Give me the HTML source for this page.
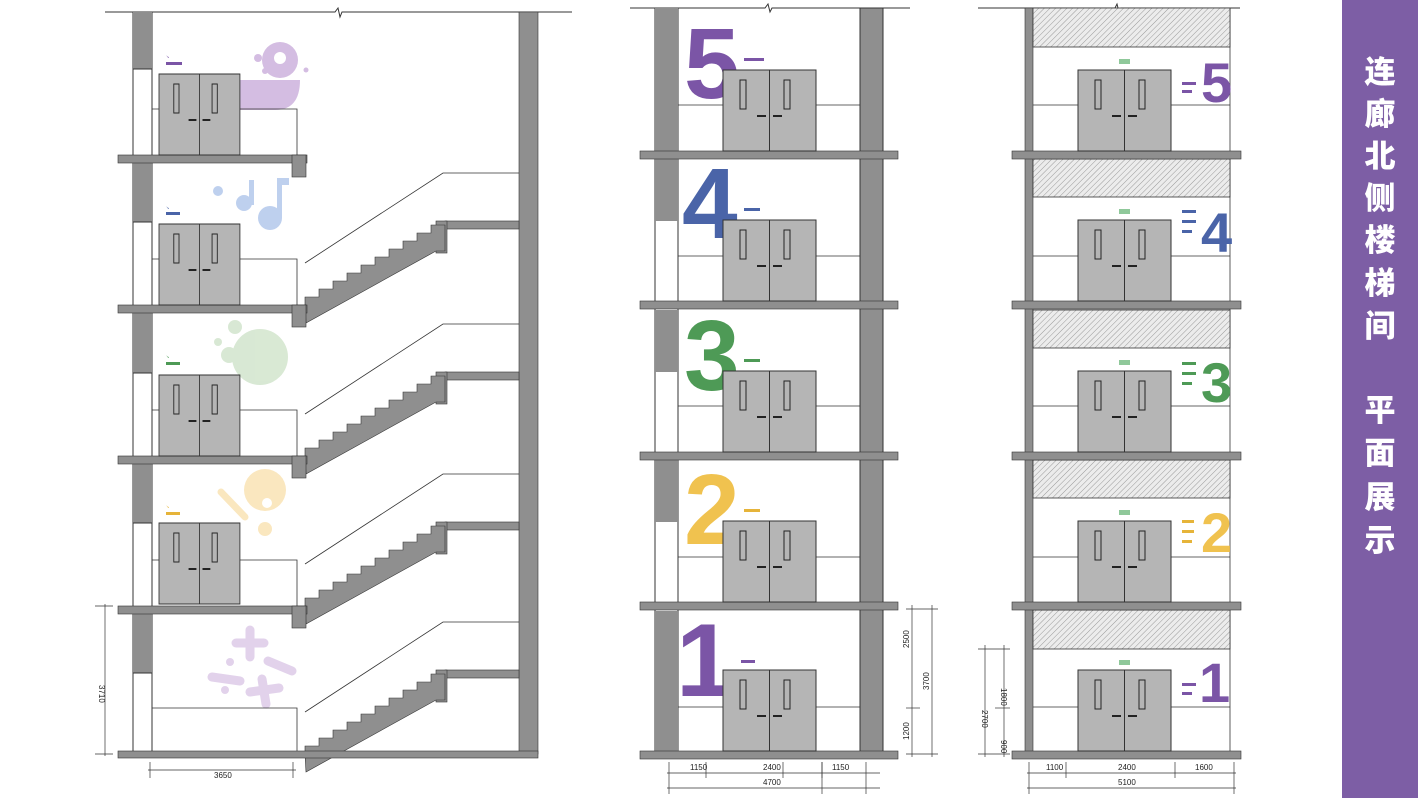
<!DOCTYPE html>
<html><head><meta charset="utf-8"><style>
html,body{margin:0;padding:0;background:#fff;}
svg{display:block;}
.t{font-family:"Liberation Sans",sans-serif;font-size:8px;fill:#222;}
.num{font-family:"Liberation Sans",sans-serif;font-weight:bold;}
.side{font-family:"Liberation Sans","Noto Sans CJK SC",sans-serif;font-weight:900;font-size:31px;fill:#fff;}
</style></head><body>
<svg width="1418" height="798" viewBox="0 0 1418 798" xmlns="http://www.w3.org/2000/svg">
<defs>
<pattern id="hatch" width="4" height="4" patternUnits="userSpaceOnUse" patternTransform="rotate(45)">
<rect width="4" height="4" fill="#ececec"/><line x1="0" y1="0" x2="0" y2="4" stroke="#9a9a9a" stroke-width="1"/>
</pattern>
<g id="door">
<rect x="0" y="0" width="93" height="81" fill="#b5b5b5" stroke="#333" stroke-width="1"/>
<line x1="46.5" y1="0" x2="46.5" y2="81" stroke="#333" stroke-width="1"/>
<rect x="17" y="10" width="6" height="29" fill="#b5b5b5" stroke="#222" stroke-width="1"/>
<rect x="61" y="10" width="6" height="29" fill="#b5b5b5" stroke="#222" stroke-width="1"/>
<line x1="34" y1="46" x2="43" y2="46" stroke="#222" stroke-width="2"/>
<line x1="50" y1="46" x2="59" y2="46" stroke="#222" stroke-width="2"/>
</g>
<g id="stair">
<rect x="445" y="-84" width="74" height="8" fill="#8f8f8f" stroke="#333" stroke-width="0.6"/>
<rect x="436" y="-84" width="11" height="32" fill="#8f8f8f" stroke="#333" stroke-width="0.6"/>
<polygon points="305,0 305,-8 319,-8 319,-16 333,-16 333,-24 347,-24 347,-32 361,-32 361,-40 375,-40 375,-48 389,-48 389,-56 403,-56 403,-64 417,-64 417,-72 431,-72 431,-80 445,-80 445,-54 436,-54 306,18" fill="#8f8f8f" stroke="#333" stroke-width="0.6"/>
<polyline points="305,-42 443,-132 519,-132" fill="none" stroke="#333" stroke-width="0.8"/>
</g>
<g id="lfloor">
<rect x="118" y="0" width="189" height="8" fill="#8f8f8f" stroke="#333" stroke-width="0.6"/>
<rect x="292" y="0" width="14" height="22" fill="#8f8f8f" stroke="#333" stroke-width="0.6"/>
</g>
</defs>

<!-- ===== LEFT DRAWING ===== -->
<polyline points="105,12 335,12 338,8 340,17 342,12 572,12" fill="none" stroke="#333" stroke-width="1"/>
<rect x="519" y="12" width="19" height="742" fill="#8f8f8f" stroke="#333" stroke-width="0.6"/>
<!-- left wall column -->
<rect x="133" y="12" width="19" height="742" fill="#fff" stroke="#333" stroke-width="1"/>
<rect x="133" y="12" width="19" height="57" fill="#8f8f8f"/>
<rect x="133" y="162" width="19" height="60" fill="#8f8f8f"/>
<rect x="133" y="313" width="19" height="60" fill="#8f8f8f"/>
<rect x="133" y="463" width="19" height="60" fill="#8f8f8f"/>
<rect x="133" y="613" width="19" height="60" fill="#8f8f8f"/>
<line x1="133" y1="69" x2="152" y2="69" stroke="#333"/><line x1="133" y1="222" x2="152" y2="222" stroke="#333"/><line x1="133" y1="373" x2="152" y2="373" stroke="#333"/><line x1="133" y1="523" x2="152" y2="523" stroke="#333"/><line x1="133" y1="673" x2="152" y2="673" stroke="#333"/>
<!-- decorations -->
<g opacity="0.85">
<circle cx="280" cy="60" r="18" fill="#cdb2dd"/><circle cx="280" cy="58" r="6" fill="#fff"/>
<path d="M240 80 L300 80 Q300 110 275 110 L240 110 Z" fill="#cdb2dd"/>
<circle cx="258" cy="58" r="4" fill="#cdb2dd"/><circle cx="265" cy="71" r="3" fill="#cdb2dd"/><circle cx="306" cy="70" r="2.5" fill="#cdb2dd"/>
<circle cx="244" cy="203" r="8" fill="#b3c8ec"/><circle cx="270" cy="218" r="12" fill="#b3c8ec"/><circle cx="218" cy="191" r="5" fill="#b3c8ec"/>
<rect x="249" y="180" width="5" height="25" fill="#b3c8ec"/><rect x="277" y="178" width="5" height="40" fill="#b3c8ec"/><rect x="277" y="178" width="12" height="7" fill="#b3c8ec"/>
<circle cx="260" cy="357" r="28" fill="#d2e5cd"/><circle cx="229" cy="355" r="8" fill="#d2e5cd"/><circle cx="218" cy="342" r="4" fill="#d2e5cd"/><circle cx="235" cy="327" r="7" fill="#d2e5cd"/>
<circle cx="265" cy="490" r="21" fill="#fae3b4"/><circle cx="267" cy="503" r="5" fill="#fff"/>
<line x1="221" y1="492" x2="245" y2="517" stroke="#fae3b4" stroke-width="7" stroke-linecap="round"/>
<circle cx="265" cy="529" r="7" fill="#fae3b4"/>
<line x1="250" y1="630" x2="250" y2="657" stroke="#ddcbe8" stroke-width="9" stroke-linecap="round"/><line x1="236" y1="643" x2="264" y2="643" stroke="#ddcbe8" stroke-width="9" stroke-linecap="round"/>
<line x1="212" y1="677" x2="240" y2="681" stroke="#ddcbe8" stroke-width="9" stroke-linecap="round"/>
<line x1="268" y1="661" x2="292" y2="671" stroke="#ddcbe8" stroke-width="9" stroke-linecap="round"/>
<line x1="262" y1="679" x2="266" y2="704" stroke="#ddcbe8" stroke-width="9" stroke-linecap="round"/><line x1="250" y1="692" x2="279" y2="688" stroke="#ddcbe8" stroke-width="9" stroke-linecap="round"/>
<circle cx="230" cy="662" r="4" fill="#ddcbe8"/><circle cx="225" cy="690" r="4" fill="#ddcbe8"/>
</g>
<!-- parapets -->
<g fill="none" stroke="#333" stroke-width="0.8">
<polyline points="152,109 297,109 297,155"/>
<polyline points="152,259 297,259 297,305"/>
<polyline points="152,410 297,410 297,456"/>
<polyline points="152,560 297,560 297,606"/>
<polyline points="152,708 297,708 297,754"/>
</g>
<use href="#stair" transform="translate(0,305)"/>
<use href="#stair" transform="translate(0,456)"/>
<use href="#stair" transform="translate(0,606)"/>
<use href="#stair" transform="translate(0,754)"/>
<use href="#lfloor" transform="translate(0,155)"/>
<use href="#lfloor" transform="translate(0,305)"/>
<use href="#lfloor" transform="translate(0,456)"/>
<use href="#lfloor" transform="translate(0,606)"/>
<rect x="118" y="751" width="420" height="7" fill="#8f8f8f" stroke="#333" stroke-width="0.6"/>
<use href="#door" transform="translate(159,74) scale(0.87,1)"/>
<use href="#door" transform="translate(159,224) scale(0.87,1)"/>
<use href="#door" transform="translate(159,375) scale(0.87,1)"/>
<use href="#door" transform="translate(159,523) scale(0.87,1)"/>
<!-- small signs -->
<g font-family="Liberation Sans" font-size="4">
<text x="166" y="58" fill="#7b55a6">↘</text><rect x="166" y="62" width="16" height="3" fill="#7b55a6"/>
<text x="166" y="209" fill="#4a64a8">↘</text><rect x="166" y="212" width="14" height="3" fill="#4a64a8"/>
<text x="166" y="358" fill="#4e9a56">↘</text><rect x="166" y="362" width="14" height="3" fill="#4e9a56"/>
<text x="166" y="508" fill="#e6b43a">↘</text><rect x="166" y="512" width="14" height="3" fill="#e6b43a"/>
</g>
<!-- dims left -->
<g stroke="#333" stroke-width="0.7" fill="none">
<line x1="105" y1="604" x2="105" y2="756"/><line x1="95" y1="606" x2="113" y2="606"/><line x1="95" y1="754" x2="113" y2="754"/>
<line x1="148" y1="770" x2="296" y2="770"/><line x1="150" y1="762" x2="150" y2="778"/><line x1="293" y1="762" x2="293" y2="778"/>
</g>
<text class="t" x="99" y="685" transform="rotate(90 99 685)">3710</text>
<text class="t" x="214" y="778">3650</text>

<!-- ===== MIDDLE DRAWING ===== -->
<polyline points="630,8 765,8 768,4 770,12 772,8 910,8" fill="none" stroke="#333" stroke-width="1"/>
<rect x="655" y="8" width="23" height="746" fill="#fff" stroke="#333" stroke-width="1"/>
<rect x="655" y="8" width="23" height="143" fill="#8f8f8f"/>
<rect x="655" y="159" width="23" height="62" fill="#8f8f8f"/>
<rect x="655" y="310" width="23" height="62" fill="#8f8f8f"/>
<rect x="655" y="460" width="23" height="62" fill="#8f8f8f"/>
<rect x="655" y="611" width="23" height="143" fill="#8f8f8f"/>
<rect x="860" y="8" width="23" height="746" fill="#8f8f8f" stroke="#333" stroke-width="1"/>
<g stroke="#333" stroke-width="0.8">
<line x1="678" y1="105" x2="860" y2="105"/><line x1="678" y1="256" x2="860" y2="256"/><line x1="678" y1="406" x2="860" y2="406"/><line x1="678" y1="557" x2="860" y2="557"/><line x1="678" y1="707" x2="860" y2="707"/>
</g>
<text class="num" x="684" y="98" font-size="100" fill="#7b55a6">5</text>
<text class="num" x="682" y="238" font-size="100" fill="#4a64a8">4</text>
<text class="num" x="684" y="390" font-size="100" fill="#4e9a56">3</text>
<text class="num" x="684" y="544" font-size="100" fill="#f0c24f">2</text>
<text class="num" x="676" y="696" font-size="104" fill="#7b55a6">1</text>
<g fill="#8f8f8f" stroke="#333" stroke-width="0.6">
<rect x="640" y="151" width="258" height="8"/><rect x="640" y="301" width="258" height="8"/><rect x="640" y="452" width="258" height="8"/><rect x="640" y="602" width="258" height="8"/><rect x="640" y="751" width="258" height="8"/>
</g>
<use href="#door" transform="translate(723,70)"/>
<use href="#door" transform="translate(723,220)"/>
<use href="#door" transform="translate(723,371)"/>
<use href="#door" transform="translate(723,521)"/>
<use href="#door" transform="translate(723,670)"/>
<g>
<rect x="744" y="58" width="20" height="3" fill="#7b55a6"/><rect x="744" y="208" width="16" height="3" fill="#4a64a8"/><rect x="744" y="359" width="16" height="3" fill="#4e9a56"/><rect x="744" y="509" width="16" height="3" fill="#e6b43a"/><rect x="741" y="660" width="14" height="3" fill="#7b55a6"/>
</g>
<!-- dims middle -->
<g stroke="#333" stroke-width="0.7" fill="none">
<line x1="667" y1="773" x2="880" y2="773"/><line x1="667" y1="788" x2="880" y2="788"/>
<line x1="669" y1="762" x2="669" y2="794"/><line x1="706" y1="762" x2="706" y2="778"/><line x1="783" y1="762" x2="783" y2="778"/><line x1="822" y1="762" x2="822" y2="778"/><line x1="822" y1="762" x2="822" y2="794"/><line x1="866" y1="762" x2="866" y2="794"/>
<line x1="912" y1="605" x2="912" y2="757"/><line x1="932" y1="605" x2="932" y2="757"/>
<line x1="906" y1="609" x2="938" y2="609"/><line x1="906" y1="708" x2="920" y2="708"/><line x1="906" y1="754" x2="938" y2="754"/>
</g>
<text class="t" x="690" y="770">1150</text><text class="t" x="763" y="770">2400</text><text class="t" x="832" y="770">1150</text><text class="t" x="763" y="785">4700</text>
<text class="t" x="909" y="648" transform="rotate(-90 909 648)">2500</text>
<text class="t" x="929" y="690" transform="rotate(-90 929 690)">3700</text>
<text class="t" x="909" y="740" transform="rotate(-90 909 740)">1200</text>

<!-- ===== RIGHT DRAWING ===== -->
<polyline points="978,8 1115,8 1117,4 1119,12 1121,8 1240,8" fill="none" stroke="#333" stroke-width="1"/>
<rect x="1025" y="8" width="8" height="746" fill="#8f8f8f" stroke="#333" stroke-width="0.6"/>
<line x1="1230" y1="8" x2="1230" y2="754" stroke="#333" stroke-width="0.8"/>
<g fill="url(#hatch)" stroke="#333" stroke-width="0.8">
<rect x="1033" y="8" width="197" height="39"/><rect x="1033" y="159" width="197" height="38"/><rect x="1033" y="310" width="197" height="38"/><rect x="1033" y="460" width="197" height="38"/><rect x="1033" y="610" width="197" height="39"/>
</g>
<g stroke="#333" stroke-width="0.8">
<line x1="1033" y1="105" x2="1230" y2="105"/><line x1="1033" y1="256" x2="1230" y2="256"/><line x1="1033" y1="406" x2="1230" y2="406"/><line x1="1033" y1="557" x2="1230" y2="557"/><line x1="1033" y1="707" x2="1230" y2="707"/>
</g>
<g fill="#8f8f8f" stroke="#333" stroke-width="0.6">
<rect x="1012" y="151" width="229" height="8"/><rect x="1012" y="301" width="229" height="8"/><rect x="1012" y="452" width="229" height="8"/><rect x="1012" y="602" width="229" height="8"/><rect x="1012" y="751" width="229" height="8"/>
</g>
<use href="#door" transform="translate(1078,70)"/>
<use href="#door" transform="translate(1078,220)"/>
<use href="#door" transform="translate(1078,371)"/>
<use href="#door" transform="translate(1078,521)"/>
<use href="#door" transform="translate(1078,670)"/>
<g fill="#8fc89a"><rect x="1119" y="59" width="11" height="5"/><rect x="1119" y="209" width="11" height="5"/><rect x="1119" y="360" width="11" height="5"/><rect x="1119" y="510" width="11" height="5"/><rect x="1119" y="660" width="11" height="5"/></g>
<text class="num" x="1201" y="102" font-size="56" fill="#7b55a6">5</text>
<text class="num" x="1201" y="252" font-size="56" fill="#4a64a8">4</text>
<text class="num" x="1201" y="402" font-size="56" fill="#4e9a56">3</text>
<text class="num" x="1201" y="552" font-size="56" fill="#f0c24f">2</text>
<text class="num" x="1199" y="702" font-size="56" fill="#7b55a6">1</text>
<g>
<rect x="1182" y="82" width="14" height="3" fill="#7b55a6"/><rect x="1182" y="90" width="10" height="3" fill="#7b55a6"/>
<rect x="1182" y="210" width="14" height="3" fill="#4a64a8"/><rect x="1182" y="220" width="14" height="3" fill="#4a64a8"/><rect x="1182" y="230" width="10" height="3" fill="#4a64a8"/>
<rect x="1182" y="362" width="14" height="3" fill="#4e9a56"/><rect x="1182" y="372" width="14" height="3" fill="#4e9a56"/><rect x="1182" y="382" width="10" height="3" fill="#4e9a56"/>
<rect x="1182" y="520" width="12" height="3" fill="#e6b43a"/><rect x="1182" y="530" width="12" height="3" fill="#e6b43a"/><rect x="1182" y="540" width="10" height="3" fill="#e6b43a"/>
<rect x="1182" y="683" width="14" height="3" fill="#7b55a6"/><rect x="1182" y="692" width="10" height="3" fill="#7b55a6"/>
</g>
<!-- dims right -->
<g stroke="#333" stroke-width="0.7" fill="none">
<line x1="1027" y1="773" x2="1236" y2="773"/><line x1="1027" y1="788" x2="1236" y2="788"/>
<line x1="1029" y1="762" x2="1029" y2="794"/><line x1="1066" y1="762" x2="1066" y2="778"/><line x1="1175" y1="762" x2="1175" y2="778"/><line x1="1234" y1="762" x2="1234" y2="794"/>
<line x1="985" y1="645" x2="985" y2="757"/><line x1="1004" y1="645" x2="1004" y2="757"/>
<line x1="978" y1="649" x2="1010" y2="649"/><line x1="995" y1="708" x2="1010" y2="708"/><line x1="978" y1="754" x2="1010" y2="754"/>
</g>
<text class="t" x="1046" y="770">1100</text><text class="t" x="1118" y="770">2400</text><text class="t" x="1195" y="770">1600</text><text class="t" x="1118" y="785">5100</text>
<text class="t" x="1001" y="688" transform="rotate(90 1001 688)">1800</text>
<text class="t" x="982" y="710" transform="rotate(90 982 710)">2700</text>
<text class="t" x="1001" y="740" transform="rotate(90 1001 740)">900</text>

<!-- ===== SIDEBAR ===== -->
<rect x="1342" y="0" width="76" height="798" fill="#7d5ea5"/>
<g class="side" text-anchor="middle">
<text x="1380" y="83">连</text><text x="1380" y="125">廊</text><text x="1380" y="167">北</text><text x="1380" y="209">侧</text><text x="1380" y="251">楼</text><text x="1380" y="294">梯</text><text x="1380" y="337">间</text>
<text x="1380" y="421">平</text><text x="1380" y="464">面</text><text x="1380" y="508">展</text><text x="1380" y="551">示</text>
</g>
</svg>
</body></html>
